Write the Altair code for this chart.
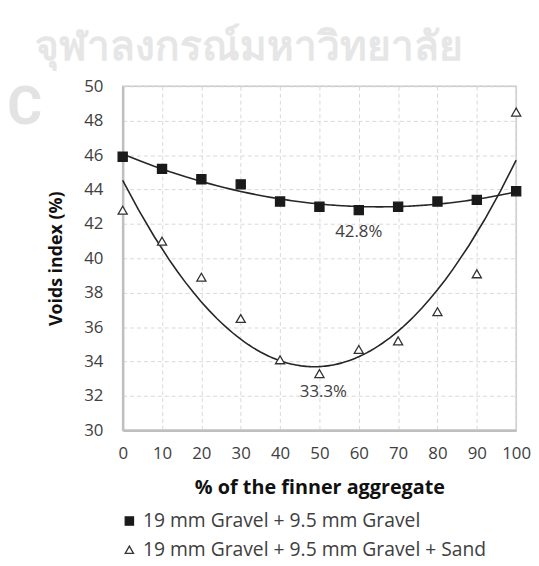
import altair as alt
import pandas as pd

# ---- data ----
pct_fine = [0, 10, 20, 30, 40, 50, 60, 70, 80, 90, 100]
gravel_gravel = [45.9, 45.2, 44.6, 44.3, 43.3, 43.0, 42.8, 43.0, 43.3, 43.4, 43.9]
gravel_gravel_sand = [42.8, 41.0, 38.9, 36.5, 34.1, 33.3, 34.7, 35.2, 36.9, 39.1, 48.5]
series_names = ["19 mm Gravel + 9.5 mm Gravel", "19 mm Gravel + 9.5 mm Gravel + Sand"]
y_ticks = [30, 32, 34, 36, 38, 40, 42, 44, 46, 48, 50]

note_text = ["42.8%", "33.3%"]
note_x = [60, 51]
note_y = [41.5, 32.25]

watermark_text = "จุฬาลงกรณ์มหาวิทยาลัย"
watermark_letter = "C"

rows = []
for xv, a, b in zip(pct_fine, gravel_gravel, gravel_gravel_sand):
    rows.append({"x": xv, "y": a, "series": series_names[0]})
    rows.append({"x": xv, "y": b, "series": series_names[1]})
df = pd.DataFrame(rows)
notes = pd.DataFrame({"text": note_text, "x": note_x, "y": note_y})

FONT = "Open Sans"
TXT = "#404040"

X = alt.X("x:Q", scale=alt.Scale(domain=[0, 100], nice=False),
          axis=alt.Axis(title="% of the finner aggregate", values=pct_fine,
                        titleFontSize=20, labelPadding=15, titlePadding=17))
Y = alt.Y("y:Q", scale=alt.Scale(domain=[30, 50], nice=False),
          axis=alt.Axis(title="Voids index (%)", values=y_ticks,
                        titleFontSize=18, labelPadding=20, titlePadding=18))

base = alt.Chart(df)

trend = base.transform_regression(
    "x", "y", groupby=["series"], method="poly", order=2, extent=[0, 100]
).mark_line(color="#262626", strokeWidth=1.6).encode(x=X, y=Y, detail="series:N")

legend = alt.Legend(
    title=None, orient="none", legendX=-3, legendY=430, padding=0,
    rowPadding=8, labelFontSize=19.5, labelFont=FONT, labelColor=TXT,
    symbolSize=70, labelOffset=4, symbolStrokeWidth=1.3, labelLimit=500,
)
dom = series_names
points = base.mark_point(size=85, strokeWidth=1.3, opacity=1).encode(
    x=X, y=Y,
    shape=alt.Shape("series:N", scale=alt.Scale(domain=dom, range=["square", "triangle-up"]), legend=legend),
    fill=alt.Fill("series:N", scale=alt.Scale(domain=dom, range=["#1a1a1a", "#ffffff"]), legend=legend),
    stroke=alt.Stroke("series:N", scale=alt.Scale(domain=dom, range=["#1a1a1a", "#333333"]), legend=legend),
)

labels = alt.Chart(notes).mark_text(fontSize=17, font=FONT, color=TXT).encode(
    x=X, y=Y, text="text:N",
)

wm1 = alt.Chart(alt.Data(values=[{"t": watermark_text}])).mark_text(
    fontSize=41, font="Noto Sans", fontWeight="bold", color="#e6e6e6", align="center", baseline="alphabetic"
).encode(x=alt.value(128), y=alt.value(-27), text="t:N")

wm2 = alt.Chart(alt.Data(values=[{"t": watermark_letter}])).mark_text(
    fontSize=54, font="Roboto", fontWeight="bold",
    color="#e3e3e3", align="center", baseline="alphabetic"
).encode(x=alt.value(-99), y=alt.value(38), text="t:N")

chart = alt.layer(wm1, wm2, trend, points, labels).properties(
    width=398, height=348,
    autosize=alt.AutoSizeParams(type="none"),
    padding={"left": 116, "top": 76, "right": 15, "bottom": 132},
).configure_view(
    stroke="#c8c8c8", strokeWidth=1.5
).configure_axis(
    grid=True, gridColor="#d9d9d9", gridDash=[4, 3], gridWidth=1,
    domainColor="#bfbfbf", domainWidth=2.5, ticks=False,
    labelFont=FONT, labelFontSize=17, labelColor=TXT,
    labelOverlap=False, labelFlush=False,
    titleFont=FONT, titleFontWeight="bold", titleColor="#111111",
)

chart.save("out.html", embed_options={"renderer": "svg", "actions": False})
